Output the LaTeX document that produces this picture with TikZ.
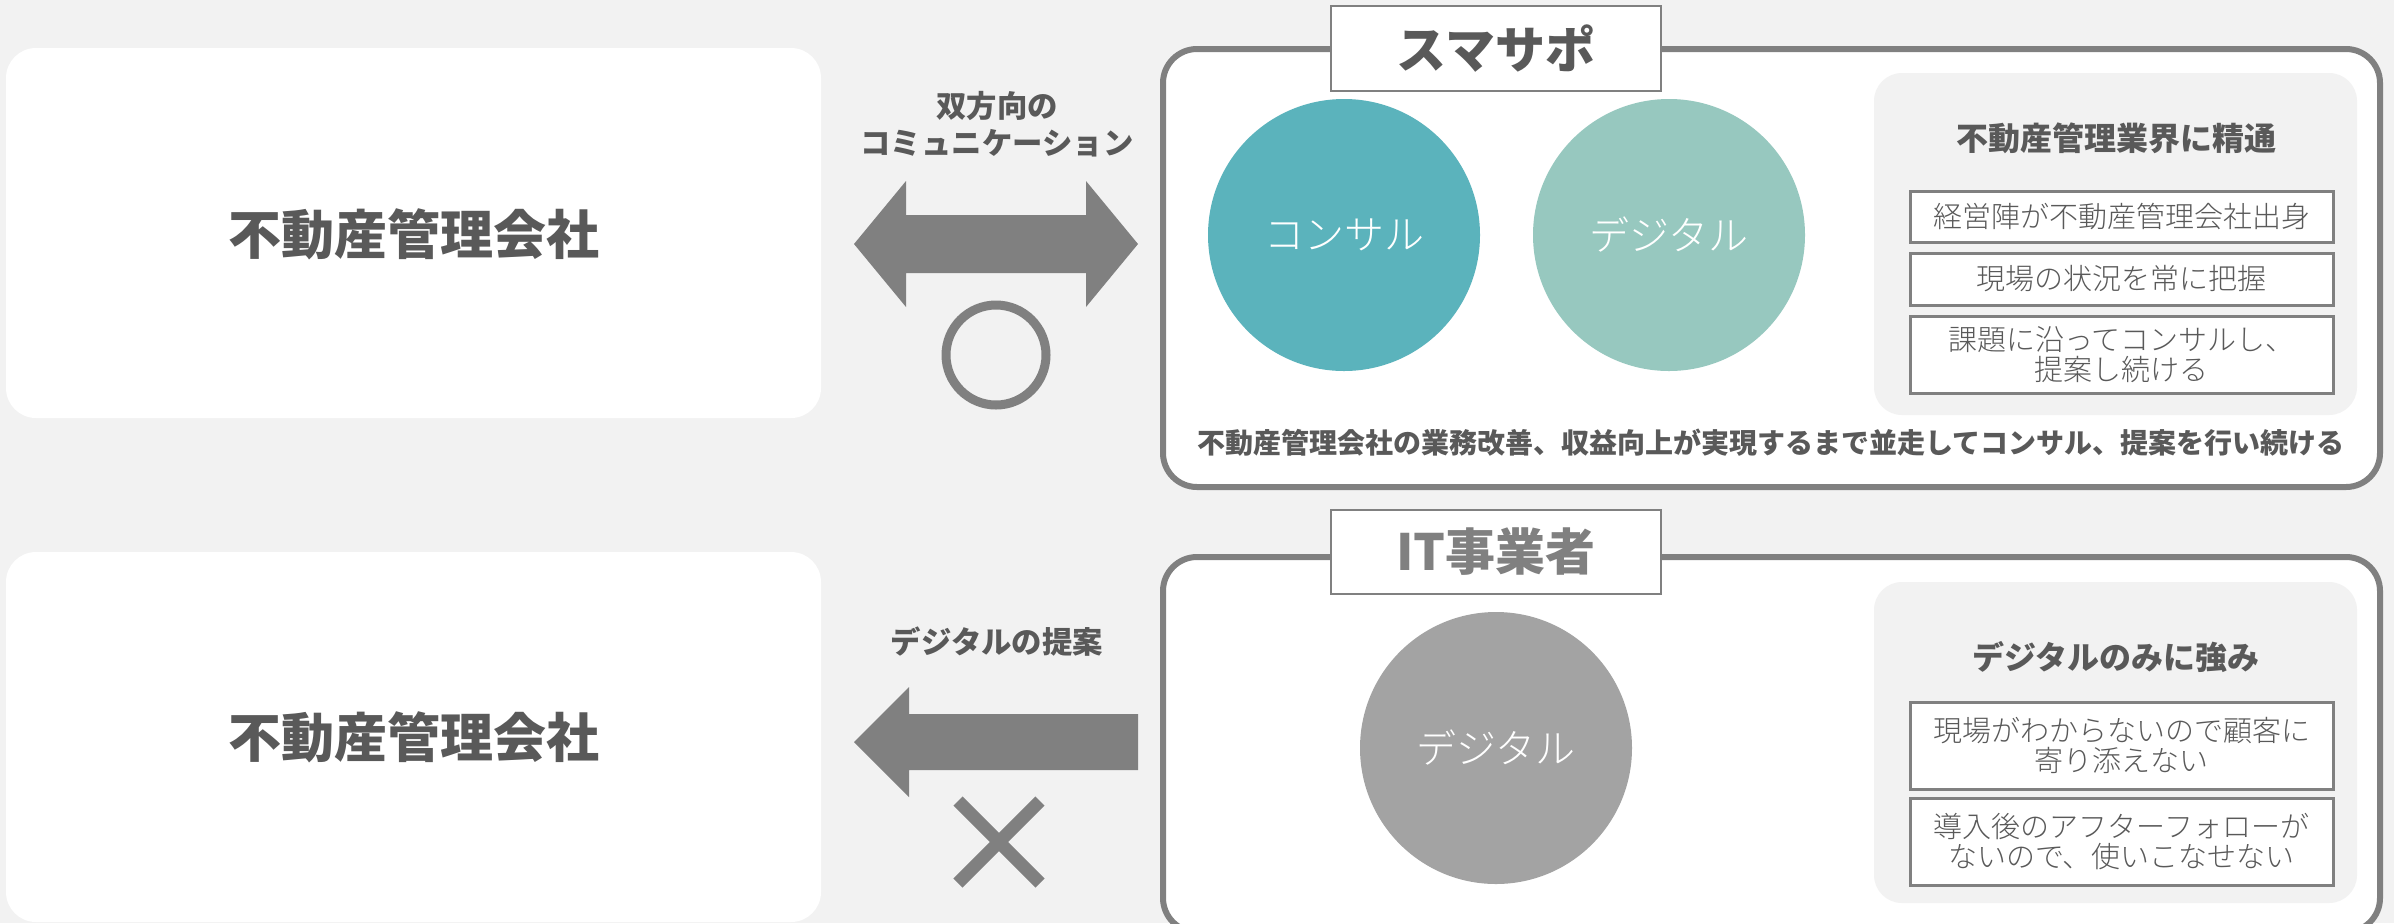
\documentclass[tikz,border=0pt]{standalone}
\usepackage{fontspec}
\setmainfont{Noto Sans CJK JP}
\newfontfamily\lightfont{Noto Sans CJK JP Light}
\usetikzlibrary{positioning}
\definecolor{bggray}{HTML}{F2F2F2}
\definecolor{linegray}{HTML}{808080}
\definecolor{textgray}{HTML}{595959}
\definecolor{consulteal}{HTML}{5BB3BC}
\definecolor{digimint}{HTML}{97C8BF}
\definecolor{digigray}{HTML}{A3A3A3}
\begin{document}
\begin{tikzpicture}[x=0.5pt,y=-0.5pt,
    bigpanel/.style={draw=linegray, line width=3pt, fill=white, rounded corners=17pt},
    titlebox/.style={draw=linegray, line width=1pt, fill=white},
    itembox/.style={draw=linegray, line width=1.5pt, fill=white},
    compname/.style={text=textgray, font=\fontsize{26.5pt}{30pt}\selectfont\bfseries},
    boxtitle/.style={font=\fontsize{25pt}{28pt}\selectfont\bfseries},
    circtext/.style={text=white, font=\fontsize{20pt}{24pt}\selectfont\lightfont},
    subhead/.style={text=textgray, font=\fontsize{16pt}{19pt}\selectfont\bfseries},
    itemtext/.style={text=textgray, align=center, font=\fontsize{14.5pt}{15pt}\selectfont\lightfont},
    arrowlabel/.style={text=textgray, align=center, font=\fontsize{15.2pt}{18.5pt}\selectfont\bfseries}]
    \useasboundingbox (0,0) rectangle (2394,923);
    \fill[bggray] (0,0) rectangle (2394,923);
    \clip (0,0) rectangle (2394,923);

    % Management companies
    \fill[white, rounded corners=15pt] (6,48) rectangle (821,418);
    \node[compname] (comp1) at (414,234) {不動産管理会社};
    \fill[white, rounded corners=15pt] (6,552) rectangle (821,922);
    \node[compname] (comp2) at (414,737) {不動産管理会社};

    % Two-way arrow
    \node[arrowlabel] (twoway) at (997,124) {双方向の\\コミュニケーション};
    \fill[linegray] (854,244) -- (906,181) -- (906,215) -- (1086,215) -- (1086,181)
        -- (1138,244) -- (1086,307) -- (1086,273) -- (906,273) -- (906,307) -- cycle;
    \draw[linegray, line width=4.5pt] (996,355) circle (50);

    % One-way arrow
    \node[arrowlabel] (oneway) at (997,642) {デジタルの提案};
    \fill[linegray] (854,742) -- (909,687) -- (909,714) -- (1138,714) -- (1138,770)
        -- (909,770) -- (909,797) -- cycle;
    \draw[linegray, line width=6.5pt] (958,801) -- (1040,883) (1040,801) -- (958,883);

    % Smasapo
    \draw[bigpanel] (1163,49) rectangle (2380,487);
    \draw[titlebox] (1331,6) rectangle (1661,91);
    \node[boxtitle, text=textgray] (smasapo) at (1496,49) {スマサポ};
    \fill[consulteal] (1344,235) circle (136);
    \node[circtext] (consul) at (1344,235) {コンサル};
    \fill[digimint] (1669,235) circle (136);
    \node[circtext] (digital1) at (1669,235) {デジタル};
    \fill[bggray, rounded corners=14pt] (1874,73) rectangle (2357,415);
    \node[subhead] (expert) at (2116,138) {不動産管理業界に精通};
    \foreach \t/\b/\txt in {191/242/{経営陣が不動産管理会社出身},
                            253/305/{現場の状況を常に把握},
                            316/393/{課題に沿ってコンサルし、\\提案し続ける}} {
        \draw[itembox] (1910,\t) rectangle (2333,\b);
        \node[itemtext] (good\t) at (2121.5,{(\t+\b)/2}) {\txt};
    }
    \node[subhead, font=\fontsize{14pt}{17pt}\selectfont\bfseries] (summary) at (1771,443)
        {不動産管理会社の業務改善、収益向上が実現するまで並走してコンサル、提案を行い続ける};

    % IT vendors
    \draw[bigpanel] (1163,557) rectangle (2380,932);
    \draw[titlebox] (1331,510) rectangle (1661,594);
    \node[boxtitle, text=linegray] (itvendor) at (1496,552) {IT事業者};
    \fill[digigray] (1496,748) circle (136);
    \node[circtext] (digital2) at (1496,748) {デジタル};
    \fill[bggray, rounded corners=14pt] (1874,582) rectangle (2357,903);
    \node[subhead] (digionly) at (2116,657) {デジタルのみに強み};
    \foreach \t/\b/\txt in {702/789/{現場がわからないので顧客に\\寄り添えない},
                            798/885/{導入後のアフターフォローが\\ないので、使いこなせない}} {
        \draw[itembox] (1910,\t) rectangle (2333,\b);
        \node[itemtext] (bad\t) at (2121.5,{(\t+\b)/2}) {\txt};
    }
\end{tikzpicture}
\end{document}
